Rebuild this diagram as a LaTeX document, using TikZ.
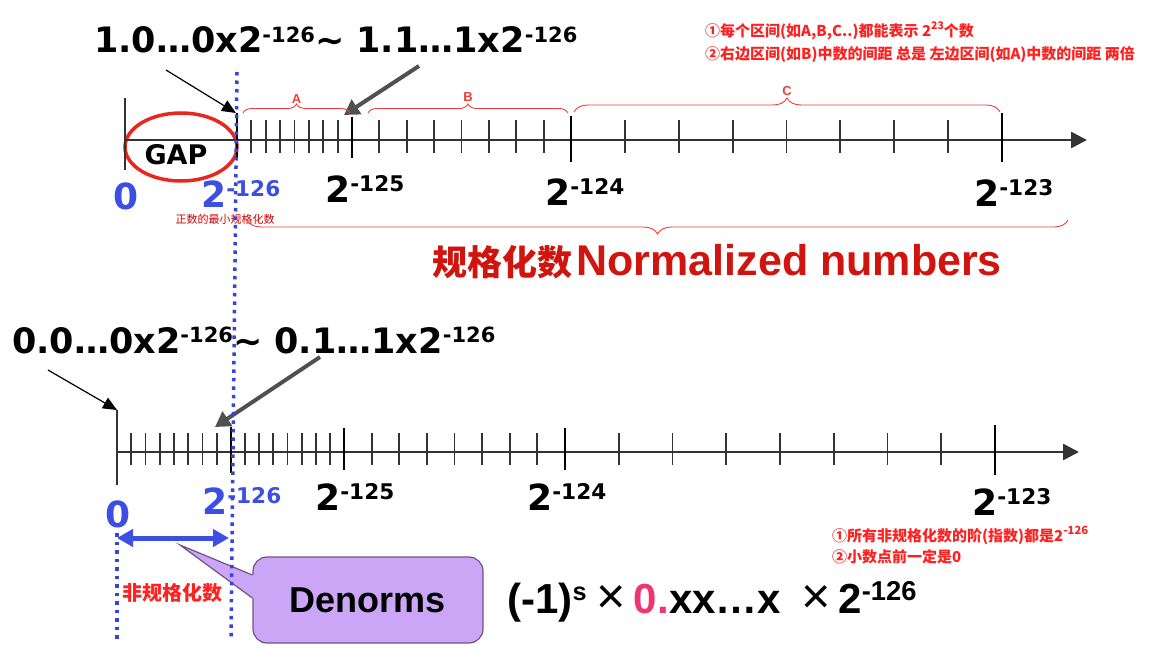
\documentclass[tikz,border=0pt]{standalone}
\usepackage{fontspec}
\setmainfont{Liberation Sans}
\newfontfamily\djv{DejaVu Sans}
\newfontfamily\cjk{Noto Sans CJK SC}
\usetikzlibrary{arrows.meta, positioning, calc, decorations.pathreplacing}

\definecolor{ptblue}{HTML}{3D4FE3}
\definecolor{dotblue}{HTML}{3A44D4}
\definecolor{gapred}{HTML}{E8281E}
\definecolor{bracered}{HTML}{F03C3C}
\definecolor{notered}{HTML}{FF2020}
\definecolor{smallred}{HTML}{D40000}
\definecolor{normred}{HTML}{D0140E}
\definecolor{ptrgray}{HTML}{505050}
\definecolor{axisgray}{HTML}{333333}
\definecolor{calloutfill}{HTML}{CBA6F6}
\definecolor{calloutdraw}{HTML}{6B5683}
\definecolor{zeropink}{HTML}{F0346E}

\newcommand{\setfs}[1]{\fontsize{#1}{#1}\selectfont}
% raised exponent
\newcommand{\pw}[1]{\raisebox{0.3em}{\scalebox{0.6}{#1}}}

\tikzset{
    numline/.style={line width=2.6pt, color=axisgray, -{Triangle[length=16pt, width=16pt]}},
    endtick/.style={line width=1.6pt, color=axisgray},
    minortick/.style={line width=1.8pt, color=axisgray},
    majortick/.style={line width=2.8pt, color=black},
    bigexpr/.style={anchor=base west, inner sep=0pt, font=\djv\bfseries\setfs{35}},
    tickval/.style={anchor=base west, inner sep=0pt, font=\djv\bfseries\setfs{36}},
    blueval/.style={tickval, text=ptblue},
    rbrace/.style={decorate, decoration={brace, amplitude=#1}, draw=bracered, line width=0.9pt},
    bracelbl/.style={text=bracered, font=\bfseries\setfs{13}, inner sep=0pt},
    notetext/.style={anchor=base west, inner sep=0pt, text=notered, font=\cjk\bfseries\setfs{15}},
    thinptr/.style={line width=1.2pt, -{Triangle[length=14pt, width=12pt]}},
    thickptr/.style={line width=4pt, color=ptrgray, -{Triangle[length=15pt, width=17pt]}},
    blueline/.style={dotblue, line width=3.5pt, dash pattern=on 3.5pt off 5pt},
    gapring/.style={draw=gapred, line width=3.5pt},
    denarrow/.style={ptblue, line width=5pt, {Triangle[length=16pt, width=17pt]}-{Triangle[length=16pt, width=17pt]}},
    denorm/.style={draw=calloutdraw, fill=calloutfill, line width=1.2pt, rounded corners=14pt,
        minimum width=230pt, minimum height=86pt, font=\bfseries\setfs{36}},
}

\begin{document}
\begin{tikzpicture}[x=1pt, y=-1pt]
    \useasboundingbox (0,0) rectangle (1158,663);

    % notes
    \node[notetext] (note1) at (705,37) {①每个区间(如A,B,C..)都能表示 2\raisebox{0.5em}{\scalebox{0.7}{23}}个数};
    \node[notetext] (note2) at (705,60) {②右边区间(如B)中数的间距 总是 左边区间(如A)中数的间距 两倍};

    % normalized range
    \node[bigexpr] (nrmrange) at (94,53) {1.0…0x2\pw{-126}\textasciitilde{} 1.1…1x2\pw{-126}};
    \coordinate (p1s) at (166,70);
    \coordinate (t126top) at (236,113);
    \coordinate (p2s) at (419,66);
    \coordinate (t125top) at (344,115);

    \draw[gapring] (181,147) ellipse [x radius=56pt, y radius=34pt];
    \node[font=\djv\bfseries\setfs{27}] (gaptxt) at (176,155) {GAP};

    \coordinate (ta0) at (125,140);
    \coordinate (taend) at (1087,140);
    \draw[endtick] (125,98) -- (125,170);
    \draw[numline] (ta0) -- (taend);
    \foreach \a/\b in {237/352, 352/571, 571/1002}
        \foreach \i in {1,...,7}
            \draw[minortick] ({\a+\i*(\b-\a)/8},120) -- ++(0,33);
    \draw[majortick] (237,113) -- (237,160);
    \foreach \x/\t/\h in {352/117/41, 571/116/46, 1002/113/49}
        \draw[majortick] (\x,\t) -- ++(0,\h);

    \draw[thinptr] (p1s) -- (t126top);
    \draw[thickptr] (p2s) -- (t125top);

    \draw[rbrace=9] (243,113) -- (350,113) node[bracelbl, midway, above=9.5pt] (bA) {A};
    \draw[rbrace=9] (368,113) -- (568,113) node[bracelbl, midway, above=11pt] (bB) {B};
    \draw[rbrace=14] (574,112) -- (1000,112) node[bracelbl, midway, above=16pt] (bC) {C};

    \node[blueval] (z0) at (113,209) {0};
    \node[blueval] (z126) at (201,207) {2\pw{-126}};
    \node[tickval] (z125) at (325,202) {2\pw{-125}};
    \node[tickval] (z124) at (545,205) {2\pw{-124}};
    \node[tickval] (z123) at (974,206) {2\pw{-123}};
    \node[font=\cjk\setfs{11}, text=smallred, inner sep=0pt] (minnorm) at (225,219) {正数的最小规格化数};

    \draw[rbrace=14] (1068,220) -- (247,220);
    \node[anchor=base west, inner sep=0pt, font=\cjk\bfseries\setfs{35}, text=normred] (normcn) at (432,275) {规格化数};
    \node[anchor=base west, inner sep=0pt, font=\bfseries\setfs{43}, text=normred] (normen) at ([xshift=4pt]normcn.base east) {Normalized numbers};

    % denormalized range
    \node[bigexpr] (dnrange) at (12,353) {0.0…0x2\pw{-126}\textasciitilde{} 0.1…1x2\pw{-126}};
    \coordinate (p3s) at (48,370);
    \coordinate (b0top) at (117,410);
    \coordinate (p4s) at (320,357);
    \coordinate (b126pt) at (215,427);

    \coordinate (ba0) at (117,452);
    \coordinate (baend) at (1079,452);
    \draw[endtick] (117,410) -- (117,485);
    \draw[numline] (ba0) -- (baend);
    \foreach \a/\b in {117/231, 231/344, 344/565, 565/995}
        \foreach \i in {1,...,7}
            \draw[minortick] ({\a+\i*(\b-\a)/8},433) -- ++(0,32);
    \foreach \x/\t/\h in {231/427/46, 344/428/42, 565/428/42, 995/425/50}
        \draw[majortick] (\x,\t) -- ++(0,\h);

    \draw[thinptr] (p3s) -- (b0top);
    \draw[thickptr] (p4s) -- (b126pt);

    \node[blueval] (b0) at (105,527) {0};
    \node[blueval] (b126) at (202,514) {2\pw{-126}};
    \node[tickval] (b125) at (315,510) {2\pw{-125}};
    \node[tickval] (b124) at (527,510) {2\pw{-124}};
    \node[tickval] (b123) at (972,515) {2\pw{-123}};

    \node[notetext] (note3) at (832,541) {①所有非规格化数的阶(指数)都是2\raisebox{0.45em}{\scalebox{0.75}{-126}}};
    \node[notetext] (note4) at (832,562) {②小数点前一定是0};

    \coordinate (dl) at (117,538);
    \coordinate (dr) at (229,538);
    \draw[denarrow] (dl) -- (dr);
    \node[font=\cjk\bfseries\setfs{20}, text=notered, inner sep=0pt] (denlbl) at (172,593) {非规格化数};

    \node[denorm] (den) at (368,600) {Denorms};
    \coordinate (dtip) at (180,545);
    \fill[calloutfill] ([yshift=2pt]den.west) -- (dtip) -- ([yshift=25pt]den.west)
        -- ([xshift=3pt, yshift=25pt]den.west) -- ([xshift=3pt, yshift=2pt]den.west) -- cycle;
    \draw[calloutdraw, line width=1.2pt] ([yshift=2pt]den.west) -- (dtip) -- ([yshift=25pt]den.west);

    \node[anchor=base west, inner sep=0pt, font=\bfseries\setfs{42}] (frm) at (507,613)
        {(-1)\pw{s}\hspace{10pt}{\mdseries\scalebox{1.2}{×}}\hspace{8pt}\textcolor{zeropink}{0.}xx…x\hspace{20pt}{\mdseries\scalebox{1.2}{×}}\hspace{8pt}2\raisebox{0.3em}{\scalebox{0.65}{-126}}};

    \draw[blueline] (237,72) -- (231,640);
    \draw[blueline] (117,533) -- (117,640);
\end{tikzpicture}
\end{document}
